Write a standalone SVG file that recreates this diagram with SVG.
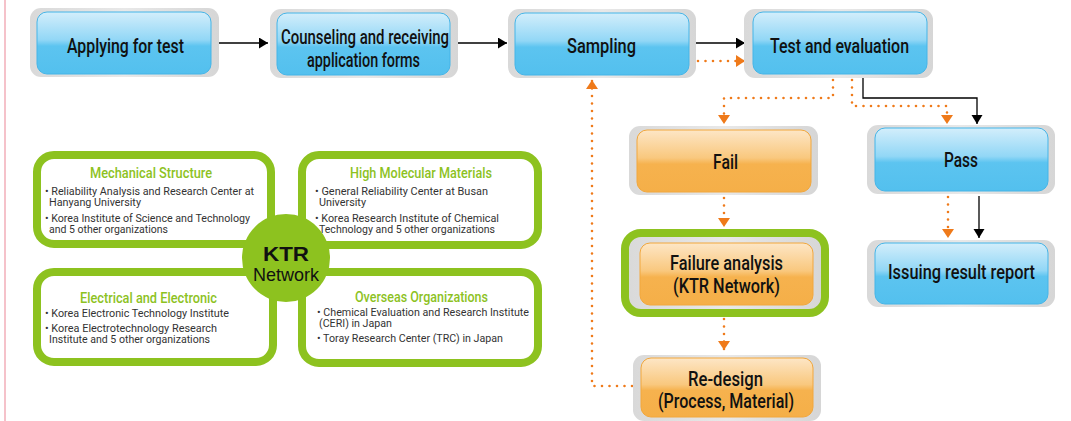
<svg xmlns="http://www.w3.org/2000/svg" width="1071" height="421" viewBox="0 0 1071 421">
<defs>
<linearGradient id="gBlue" x1="0" y1="0" x2="0" y2="1">
<stop offset="0" stop-color="#D3EEFB"/><stop offset="0.45" stop-color="#92D7F6"/><stop offset="0.55" stop-color="#5CC4F0"/><stop offset="1" stop-color="#53C0EE"/>
</linearGradient>
<linearGradient id="gOrange" x1="0" y1="0" x2="0" y2="1">
<stop offset="0" stop-color="#FDE6C6"/><stop offset="0.45" stop-color="#F9C87E"/><stop offset="0.55" stop-color="#F6B24E"/><stop offset="1" stop-color="#F5AF48"/>
</linearGradient>
<linearGradient id="gGray" x1="0" y1="0" x2="1" y2="0">
<stop offset="0" stop-color="#D9D9D9"/><stop offset="0.5" stop-color="#E8E8E8"/><stop offset="1" stop-color="#D6D6D6"/>
</linearGradient>
<marker id="aBlack" markerUnits="userSpaceOnUse" markerWidth="10" markerHeight="12" refX="9" refY="5.5" orient="auto">
<path d="M0,0 L9,5.5 L0,11 z" fill="#000"/>
</marker>
<marker id="aOrange" markerUnits="userSpaceOnUse" markerWidth="10" markerHeight="13" refX="9" refY="6" orient="auto">
<path d="M0,0 L9,6 L0,12 z" fill="#EF7A1A"/>
</marker>
<style>
.frame{fill:url(#gGray);}
.blue{fill:url(#gBlue);stroke:#45B5E8;stroke-width:1;}
.orange{fill:url(#gOrange);stroke:#F2A73C;stroke-width:1;}
.t{font-family:Roboto,"Liberation Sans",Arial,sans-serif;font-weight:500;font-size:21px;fill:#111;}
.kbox{fill:#fff;stroke:#8DC21F;stroke-width:8;}
.h{font-family:Roboto,"Liberation Sans",Arial,sans-serif;font-weight:500;font-size:14px;fill:#8DC21F;}
.b{font-family:Roboto,"Liberation Sans",Arial,sans-serif;font-size:11px;fill:#333;}
.black{fill:none;stroke:#000;stroke-width:1.3;marker-end:url(#aBlack);}
.dot{fill:none;stroke:#EF7A1A;stroke-width:2.6;stroke-linecap:round;stroke-dasharray:0 7.5;marker-end:url(#aOrange);}
</style>
</defs>
<rect width="1071" height="421" fill="#fff"/>
<line x1="5" y1="0" x2="5" y2="421" stroke="#F2AEB8" stroke-width="1.5"/>

<g id="connectors">
<path class="black" d="M219,43 H268"/>
<path class="black" d="M458,43 H507"/>
<path class="black" d="M696,43 H745"/>
<path class="black" d="M863,78 V98 H977 V124"/>
<path class="black" d="M979,196 V238"/>
<path class="dot" d="M698,61 H745"/>
<path class="dot" d="M833,80 V98 H724 V124"/>
<path class="dot" d="M852,80 V106 H947 V124"/>
<path class="dot" d="M948,197 V238"/>
<path class="dot" d="M724,198 V227"/>
<path class="dot" d="M724,319 V350"/>
<path class="dot" d="M632,386 H592 V80"/>
</g>

<g id="n-apply">
<rect class="frame" x="30" y="8" width="189" height="69" rx="11"/>
<rect class="blue" x="37" y="12" width="174" height="62" rx="10"/>
<text class="t" x="67" y="53" textLength="117" lengthAdjust="spacingAndGlyphs">Applying for test</text>
</g>
<g id="n-counsel">
<rect class="frame" x="270" y="9" width="188" height="69" rx="11"/>
<rect class="blue" x="277" y="13" width="173" height="62" rx="10"/>
<text class="t" x="281" y="44" textLength="168" lengthAdjust="spacingAndGlyphs">Counseling and receiving</text>
<text class="t" x="307" y="67" textLength="113" lengthAdjust="spacingAndGlyphs">application forms</text>
</g>
<g id="n-sampling">
<rect class="frame" x="508" y="9" width="188" height="69" rx="11"/>
<rect class="blue" x="515" y="13" width="174" height="62" rx="10"/>
<text class="t" x="567" y="53" textLength="69" lengthAdjust="spacingAndGlyphs">Sampling</text>
</g>
<g id="n-test">
<rect class="frame" x="744" y="9" width="189" height="69" rx="11"/>
<rect class="blue" x="753" y="12" width="174" height="62" rx="10"/>
<text class="t" x="770" y="53" textLength="139" lengthAdjust="spacingAndGlyphs">Test and evaluation</text>
</g>
<g id="n-pass">
<rect class="frame" x="867" y="125" width="188" height="69" rx="11"/>
<rect class="blue" x="875" y="128" width="173" height="63" rx="10"/>
<text class="t" x="944" y="167" textLength="34" lengthAdjust="spacingAndGlyphs">Pass</text>
</g>
<g id="n-issue">
<rect class="frame" x="867" y="240" width="188" height="67" rx="11"/>
<rect class="blue" x="875" y="243" width="173" height="61" rx="10"/>
<text class="t" x="888" y="279" textLength="147" lengthAdjust="spacingAndGlyphs">Issuing result report</text>
</g>
<g id="n-fail">
<rect class="frame" x="629" y="126" width="189" height="69" rx="11"/>
<rect class="orange" x="637" y="130" width="174" height="62" rx="10"/>
<text class="t" x="713" y="169" textLength="25" lengthAdjust="spacingAndGlyphs">Fail</text>
</g>
<g id="n-failure">
<rect x="625" y="233" width="200" height="80" rx="16" fill="url(#gGray)" stroke="#8DC21F" stroke-width="8"/>
<rect class="orange" x="640" y="243" width="173" height="62" rx="10"/>
<text class="t" x="670" y="270" textLength="113" lengthAdjust="spacingAndGlyphs">Failure analysis</text>
<text class="t" x="673" y="293" textLength="107" lengthAdjust="spacingAndGlyphs">(KTR Network)</text>
</g>
<g id="n-redesign">
<rect class="frame" x="633" y="355" width="188" height="66" rx="11"/>
<rect class="orange" x="641" y="358" width="172" height="59" rx="10"/>
<text class="t" x="688" y="386" textLength="75" lengthAdjust="spacingAndGlyphs">Re-design</text>
<text class="t" x="658" y="408" textLength="136" lengthAdjust="spacingAndGlyphs">(Process, Material)</text>
</g>

<g id="k-mech">
<rect class="kbox" x="37" y="155" width="234" height="89" rx="17"/>
<text class="h" x="90" y="178" textLength="122" lengthAdjust="spacingAndGlyphs">Mechanical Structure</text>
<text class="b" x="45" y="195" textLength="209" lengthAdjust="spacingAndGlyphs">• Reliability Analysis and Research Center at</text>
<text class="b" x="49" y="206" textLength="92" lengthAdjust="spacingAndGlyphs">Hanyang University</text>
<text class="b" x="45" y="222" textLength="205" lengthAdjust="spacingAndGlyphs">• Korea Institute of Science and Technology</text>
<text class="b" x="49" y="233" textLength="119" lengthAdjust="spacingAndGlyphs">and 5 other organizations</text>
</g>
<g id="k-poly">
<rect class="kbox" x="302" y="155" width="236" height="90" rx="17"/>
<text class="h" x="350" y="178" textLength="142" lengthAdjust="spacingAndGlyphs">High Molecular Materials</text>
<text class="b" x="315" y="195" textLength="173" lengthAdjust="spacingAndGlyphs">• General Reliability Center at Busan</text>
<text class="b" x="319" y="206" textLength="47" lengthAdjust="spacingAndGlyphs">University</text>
<text class="b" x="315" y="222" textLength="184" lengthAdjust="spacingAndGlyphs">• Korea Research Institute of Chemical</text>
<text class="b" x="319" y="233" textLength="176" lengthAdjust="spacingAndGlyphs">Technology and 5 other organizations</text>
</g>
<g id="k-elec">
<rect class="kbox" x="37" y="272" width="236" height="90" rx="17"/>
<text class="h" x="80" y="303" textLength="137" lengthAdjust="spacingAndGlyphs">Electrical and Electronic</text>
<text class="b" x="45" y="317" textLength="184" lengthAdjust="spacingAndGlyphs">• Korea Electronic Technology Institute</text>
<text class="b" x="45" y="332" textLength="172" lengthAdjust="spacingAndGlyphs">• Korea Electrotechnology Research</text>
<text class="b" x="49" y="343" textLength="161" lengthAdjust="spacingAndGlyphs">Institute and 5 other organizations</text>
</g>
<g id="k-over">
<rect class="kbox" x="302" y="272" width="236" height="91" rx="17"/>
<text class="h" x="355" y="302" textLength="133" lengthAdjust="spacingAndGlyphs">Overseas Organizations</text>
<text class="b" x="317" y="316" textLength="212" lengthAdjust="spacingAndGlyphs">• Chemical Evaluation and Research Institute</text>
<text class="b" x="319" y="327" textLength="73" lengthAdjust="spacingAndGlyphs">(CERI) in Japan</text>
<text class="b" x="317" y="342" textLength="186" lengthAdjust="spacingAndGlyphs">• Toray Research Center (TRC) in Japan</text>
</g>
<g id="k-center">
<circle cx="286" cy="258" r="44" fill="#8DC21F"/>
<text x="263" y="261" font-family="Liberation Sans,Arial,sans-serif" font-weight="bold" font-size="21" fill="#111" textLength="46" lengthAdjust="spacingAndGlyphs">KTR</text>
<text x="253" y="281" font-family="Liberation Sans,Arial,sans-serif" font-size="19" fill="#111" textLength="66" lengthAdjust="spacingAndGlyphs">Network</text>
</g>
</svg>
